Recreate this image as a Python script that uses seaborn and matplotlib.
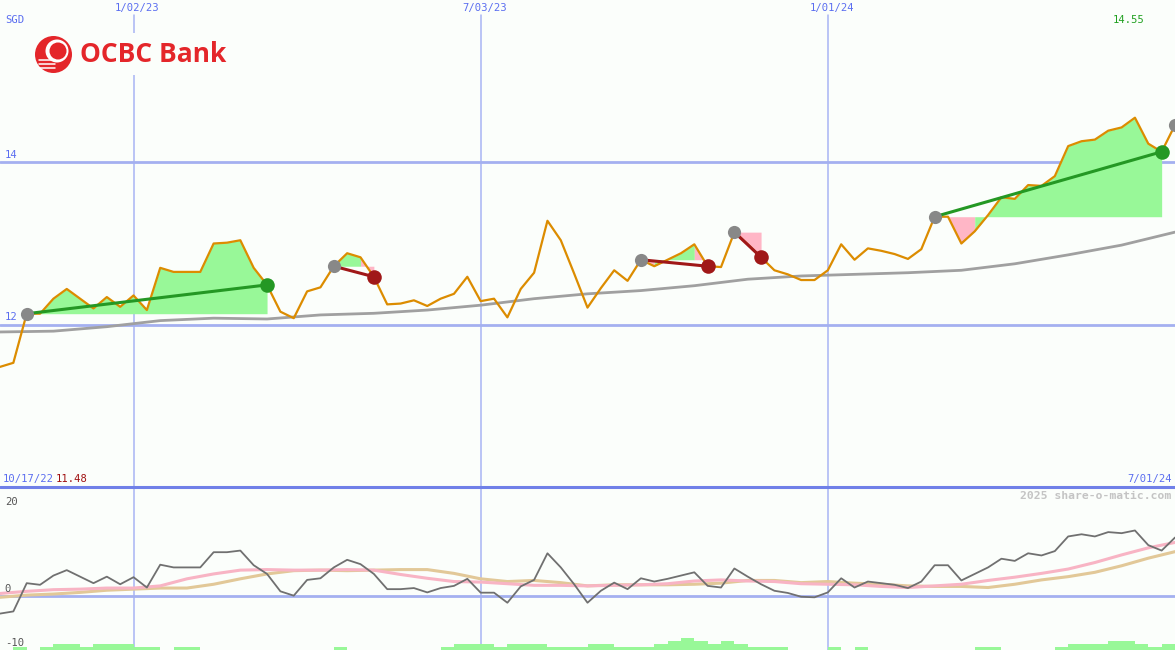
import seaborn as sns
import matplotlib.pyplot as plt
import matplotlib.transforms as mtransforms
from matplotlib.patches import Circle, Rectangle
import pandas as pd

# weekly closes, OCBC (SGD)
weeks = pd.date_range("2022-10-24", "2024-07-01", freq="7D")

price = [11.48, 11.53, 12.135, 12.135, 12.32, 12.44, 12.32, 12.20, 12.34, 12.22,
         12.36, 12.18, 12.70, 12.65, 12.65, 12.65, 13.00, 13.01, 13.04, 12.70,
         12.49, 12.16, 12.08, 12.41, 12.46, 12.72, 12.88, 12.83, 12.59, 12.25,
         12.26, 12.30, 12.23, 12.32, 12.38, 12.59, 12.29, 12.32, 12.09, 12.44,
         12.64, 13.28, 13.04, 12.63, 12.21, 12.45, 12.67, 12.54, 12.80, 12.72,
         12.80, 12.88, 12.99, 12.72, 12.71, 13.14, 12.99, 12.83, 12.67, 12.62,
         12.55, 12.55, 12.67, 12.99, 12.80, 12.94, 12.91, 12.87, 12.81, 12.93,
         13.33, 13.33, 13.00, 13.15, 13.35, 13.57, 13.55, 13.72, 13.71, 13.83,
         14.20, 14.26, 14.28, 14.39, 14.43, 14.55, 14.23, 14.13, 14.46]

# long moving average, read every 4 weeks
ma_weeks = weeks[::4]
ma = [11.91, 11.92, 11.975, 12.05, 12.08, 12.07, 12.12, 12.14, 12.18, 12.24,
      12.32, 12.38, 12.42, 12.48, 12.56, 12.60, 12.62, 12.64, 12.67, 12.75,
      12.86, 12.98, 13.14]

# lower panel: % distance from average, plus two smoothings (every 2 weeks)
osc = [-3.3, -2.9, 2.3, 2.0, 3.7, 4.7, 3.5, 2.3, 3.5, 2.1,
       3.4, 1.5, 5.7, 5.2, 5.2, 5.2, 8.0, 8.0, 8.3, 5.6,
       4.0, 0.8, 0.0, 2.9, 3.2, 5.2, 6.6, 5.8, 4.0, 1.2,
       1.2, 1.4, 0.6, 1.4, 1.8, 3.1, 0.55, 0.55, -1.3, 1.7,
       2.9, 7.8, 5.2, 2.1, -1.3, 0.9, 2.4, 1.2, 3.2, 2.6,
       3.1, 3.7, 4.3, 1.8, 1.5, 5.0, 3.5, 2.1, 0.9, 0.5,
       -0.2, -0.3, 0.6, 3.2, 1.5, 2.6, 2.3, 2.0, 1.4, 2.6,
       5.6, 5.6, 2.8, 4.0, 5.2, 6.8, 6.4, 7.8, 7.4, 8.2,
       10.9, 11.3, 10.9, 11.7, 11.5, 12.0, 9.3, 8.3, 10.7]
smooth_weeks = weeks[::2]
pink = [0.4, 0.8, 1.1, 1.2, 1.4, 1.4, 1.8, 3.1, 4.0, 4.7,
        4.8, 4.7, 4.7, 4.8, 4.7, 3.9, 3.2, 2.6, 2.5, 2.2,
        1.9, 1.9, 1.8, 1.9, 2.0, 2.2, 2.7, 2.9, 2.7, 2.6,
        2.2, 2.1, 2.0, 1.7, 1.5, 1.8, 2.1, 2.8, 3.4, 4.1,
        4.9, 6.1, 7.5, 8.8, 9.8]
tan = [-0.3, 0.1, 0.3, 0.6, 1.0, 1.2, 1.4, 1.4, 2.1, 3.1,
       4.0, 4.6, 4.7, 4.6, 4.7, 4.8, 4.8, 4.1, 3.1, 2.6,
       2.8, 2.4, 1.8, 2.0, 2.0, 2.0, 2.1, 2.3, 2.8, 2.8,
       2.4, 2.6, 2.3, 2.1, 1.8, 1.7, 1.7, 1.5, 2.1, 2.9,
       3.5, 4.3, 5.5, 6.9, 8.1]
# strength bars per weekly interval (levels)
bars = [0, 1, 0, 1, 2, 2, 1, 2, 2, 2,
        1, 1, 0, 1, 1, 0, 0, 0, 0, 0,
        0, 0, 0, 0, 0, 1, 0, 0, 0, 0,
        0, 0, 0, 1, 2, 2, 2, 1, 2, 2,
        2, 1, 1, 1, 2, 2, 1, 1, 1, 2,
        3, 4, 3, 2, 3, 2, 1, 1, 1, 0,
        0, 0, 1, 0, 1, 0, 0, 0, 0, 0,
        0, 0, 0, 1, 1, 0, 0, 0, 0, 1,
        2, 2, 2, 3, 3, 2, 1, 2]

# trades (week index of entry / exit), last one still open
trade_start = [2, 25, 48, 55, 70]
trade_end = [20, 28, 53, 57, 87]
open_trade = 88

grid_dates = pd.to_datetime(["2023-01-02", "2023-07-03", "2024-01-01"])
grid_labels = ["1/02/23", "7/03/23", "1/01/24"]
first_label, last_label = "10/17/22", "7/01/24"

BG = '#fbfefb'
BLUE_TXT = '#5b6ef0'
GRID = '#a8b4f4'
FILL_UP, FILL_DN = '#98f898', '#ffb6c6'
LINE_UP, LINE_DN = '#249824', '#a01818'
BAR_STEP = 0.55

sns.set_theme(style="white")
plt.rcParams['font.family'] = ['DejaVu Sans Mono', 'DejaVu Sans']

fig = plt.figure(figsize=(11.75, 6.5), dpi=100, facecolor=BG)
ax = fig.add_axes([0, 163 / 650, 1, 487 / 650])
axb = fig.add_axes([0, 0, 1, 163 / 650])
for a in (ax, axb):
    a.set_axis_off()

# ---- top panel
for d in grid_dates:
    ax.axvline(d, ymin=0, ymax=1 - 15 / 487, color=GRID, lw=1.1, zorder=1)
    axb.axvline(d, color=GRID, lw=1.1, zorder=1)
for lvl in (12, 14):
    ax.axhline(lvl, color='#a4b0f0', lw=2, zorder=1)

sns.lineplot(x=ma_weeks, y=ma, ax=ax, color='#a0a0a0', lw=2.0, zorder=3)
sns.lineplot(x=weeks, y=price, ax=ax, color='#dc8c00', lw=1.6, zorder=4)

for s, e in zip(trade_start, trade_end):
    base = price[s]
    # colour of each weekly step inside the trade, grouped into runs
    cols = [FILL_UP if price[j + 1] >= base else FILL_DN for j in range(s, e)]
    a0 = s
    for k in range(1, len(cols) + 1):
        if k == len(cols) or cols[k] != cols[k - 1]:
            b0 = s + k
            ax.fill_between(weeks[a0:b0 + 1], price[a0:b0 + 1], base,
                            color=cols[k - 1], lw=0, zorder=2)
            a0 = b0
    col = LINE_UP if price[e] > base else LINE_DN
    ax.plot([weeks[s], weeks[e]], [base, price[e]], color=col, lw=2.2, zorder=5)
    ax.scatter([weeks[s]], [base], s=90, color='#888888', lw=0, zorder=6)
    ax.scatter([weeks[e]], [price[e]], s=110, color=col, lw=0, zorder=6)
ax.scatter([weeks[open_trade]], [price[open_trade]], s=90, color='#888888',
           lw=0, zorder=6, clip_on=False)

ax.set_xlim(weeks[0], weeks[-1])
ax.set_ylim(10, 16)

ty = mtransforms.blended_transform_factory(ax.transAxes, ax.transData)
for lvl in (12, 14):
    ax.text(0.004, lvl + 0.03, str(lvl), transform=ty, color=BLUE_TXT,
            fontsize=7.6, va='bottom', ha='left')
tx = mtransforms.blended_transform_factory(ax.transData, ax.transAxes)
for d, lab in zip(grid_dates, grid_labels):
    ax.text(d + pd.Timedelta(days=2), 1 - 8 / 487, lab, transform=tx,
            color=BLUE_TXT, fontsize=7.6, ha='center', va='center')

# ---- lower panel
axb.axhline(0, color='#a4b0f0', lw=2, zorder=1)
axb.bar(weeks[:-1], [b * BAR_STEP for b in bars], width=7, align='edge',
        bottom=-10, color='#98f898', lw=0, zorder=2)
sns.lineplot(x=smooth_weeks, y=tan, ax=axb, color='#e2c898', lw=2.2, zorder=3)
sns.lineplot(x=smooth_weeks, y=pink, ax=axb, color='#f8b4c4', lw=2.2, zorder=3)
sns.lineplot(x=weeks, y=osc, ax=axb, color='#707070', lw=1.3, zorder=4)
axb.axhline(20, color='#7080e8', lw=2.2, clip_on=False, zorder=7)
axb.set_xlim(weeks[0], weeks[-1])
axb.set_ylim(-10, 20)

tyb = mtransforms.blended_transform_factory(axb.transAxes, axb.transData)
axb.text(0.004, 17.2, "20", transform=tyb, color='#555555', fontsize=7.6, va='center')
axb.text(0.004, 1.3, "0", transform=tyb, color='#555555', fontsize=7.6, va='center')
axb.text(0.004, -8.7, "-10", transform=tyb, color='#555555', fontsize=7.6, va='center')
axb.text(0.997, 0.945, "2025 share-o-matic.com", transform=axb.transAxes,
         color='#c4c4c4', fontsize=8.2, fontweight='bold', ha='right', va='center')

# ---- overlay: currency, corner labels, logo (pixel coordinates)
ov = fig.add_axes([0, 0, 1, 1])
ov.set_xlim(0, 1175)
ov.set_ylim(650, 0)
ov.set_axis_off()
ov.patch.set_alpha(0)

ov.text(5, 20, "SGD", color=BLUE_TXT, fontsize=7.6, va='center')
ov.text(3, 479, first_label, color=BLUE_TXT, fontsize=7.6, va='center')
ov.text(56, 479, f"{min(price):.2f}", color='#a01010', fontsize=7.6, va='center')
ov.text(1172, 479, last_label, color=BLUE_TXT, fontsize=7.6, va='center', ha='right')
ov.text(1129, 20, f"{max(price):.2f}", color='#20a020', fontsize=7.6,
        va='center', ha='center')

ov.add_patch(Rectangle((30, 33), 200, 42, color=BG, lw=0, zorder=8))
red = '#e4262a'
ov.add_patch(Circle((53.5, 54.5), 18.5, color=red, lw=0, zorder=9))
ov.add_patch(Circle((57, 51), 11.5, color='white', lw=0, zorder=10))
ov.add_patch(Circle((58, 51), 8.5, color=red, lw=0, zorder=11))
for yy in (60, 64, 68):
    ov.plot([39, 55], [yy, yy], color='white', lw=1.1, zorder=12)
ov.text(80, 55, "OCBC Bank", color=red, fontsize=19, fontweight='bold',
        family='Open Sans', va='center', ha='left', zorder=12)

plt.savefig("out.png", dpi=100, facecolor=BG)
